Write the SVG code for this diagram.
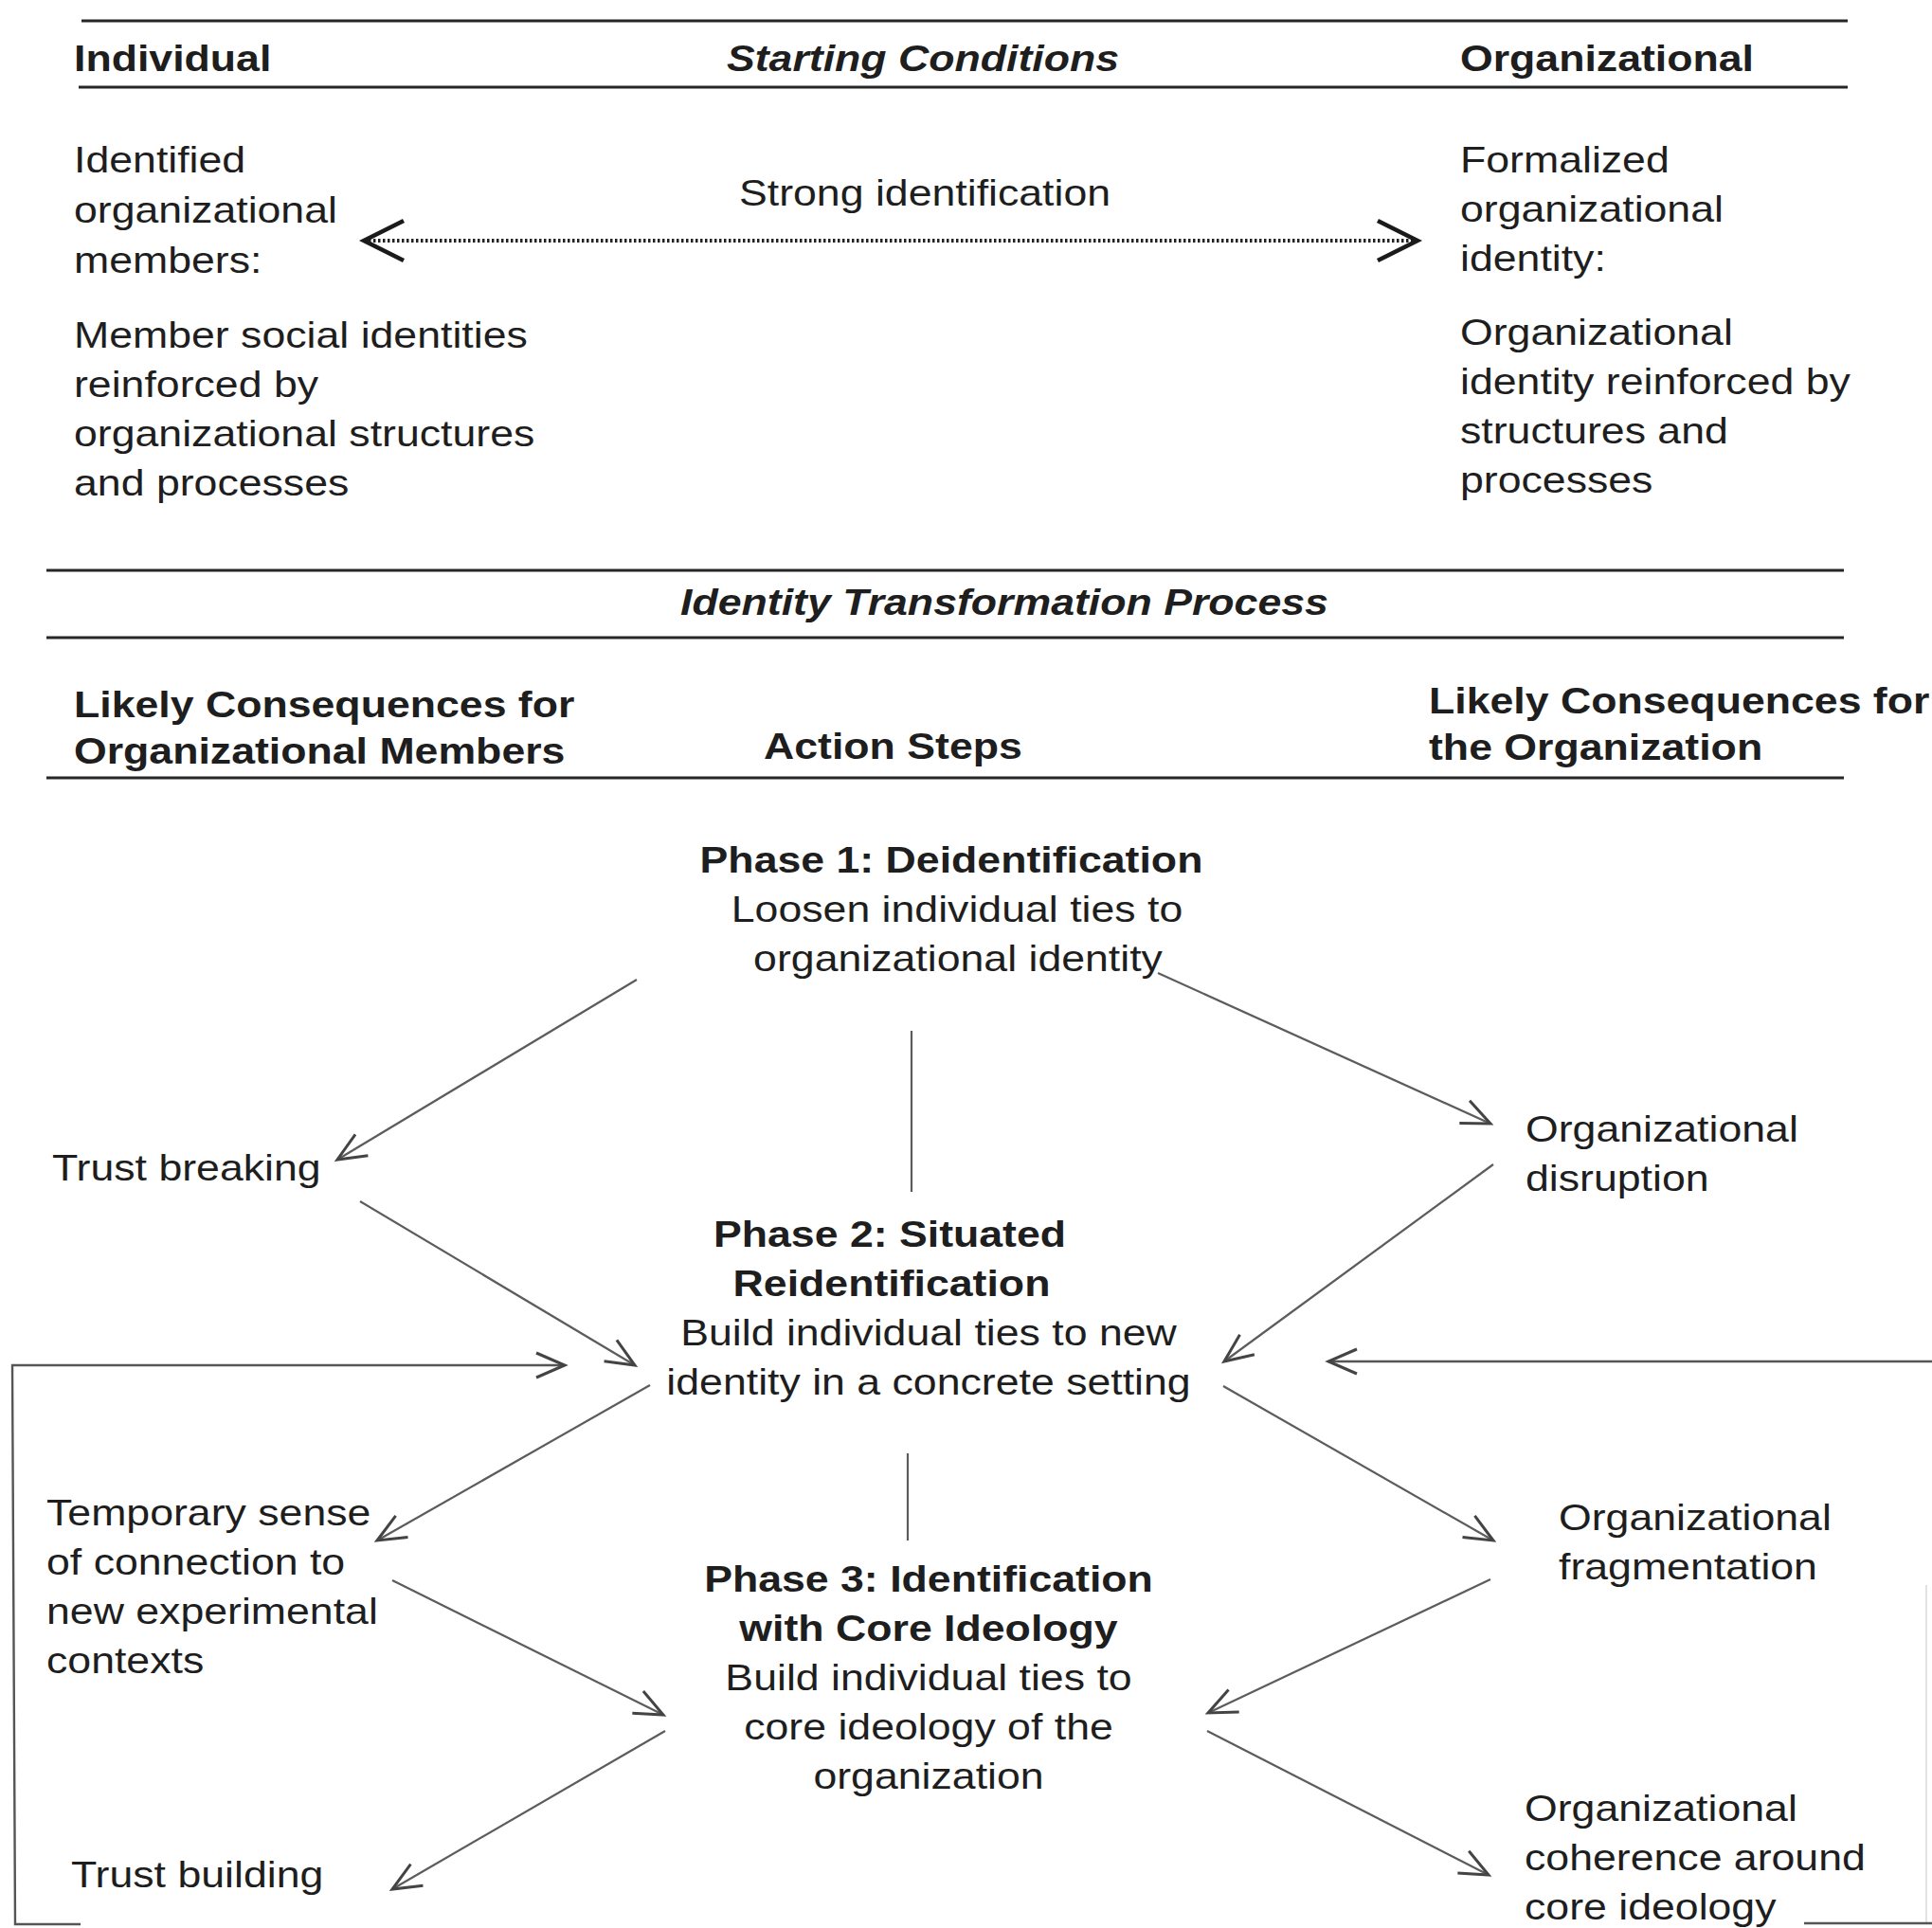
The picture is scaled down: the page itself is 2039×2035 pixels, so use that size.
<svg xmlns="http://www.w3.org/2000/svg" width="2039" height="2035" viewBox="0 0 2039 2035">
<defs>
<style>
.t{font-family:"Liberation Sans",Arial,Helvetica,sans-serif;font-size:39px;fill:#1e1e1e}
.b{font-weight:bold}
.bi{font-weight:bold;font-style:italic}
.m{text-anchor:middle}
.rule{stroke:#262626;stroke-width:3;fill:none}
.conn{stroke:#5c5c5c;stroke-width:2.2;fill:none;marker-end:url(#ah)}
.plain{stroke:#5c5c5c;stroke-width:2.2;fill:none}
.fb{stroke:#555;stroke-width:2.4;fill:none}
</style>
<marker id="ah" markerUnits="userSpaceOnUse" viewBox="-34 -16 38 32" refX="0" refY="0" markerWidth="38" markerHeight="32" orient="auto">
<path d="M-30,-13 L0,0 L-30,13" fill="none" stroke="#444" stroke-width="3" stroke-dasharray="none"/>
</marker>
<marker id="big" markerUnits="userSpaceOnUse" viewBox="-50 -26 56 52" refX="0" refY="0" markerWidth="56" markerHeight="52" orient="auto-start-reverse">
<path d="M-42,-21 L0,0 L-42,21" fill="none" stroke="#1a1a1a" stroke-width="4.5" stroke-dasharray="none"/>
</marker>
</defs>
<rect width="2039" height="2035" fill="#ffffff"/>

<g id="rules">
<line class="rule" x1="86" y1="22" x2="1950" y2="22"/>
<line class="rule" x1="83" y1="92" x2="1950" y2="92"/>
<line class="rule" x1="49" y1="602" x2="1946" y2="602"/>
<line class="rule" x1="49" y1="673" x2="1946" y2="673"/>
<line class="rule" x1="49" y1="821" x2="1946" y2="821"/>
</g>

<g id="hdr-individual" transform="translate(78,75) scale(1.145,1)"><text class="t b" x="0" y="0">Individual</text></g>
<g id="hdr-starting" transform="translate(974,75) scale(1.145,1)"><text class="t bi m" x="0" y="0">Starting Conditions</text></g>
<g id="hdr-organizational" transform="translate(1541,75) scale(1.145,1)"><text class="t b" x="0" y="0">Organizational</text></g>

<g id="lbl-strong" transform="translate(780,217) scale(1.145,1)"><text class="t" x="0" y="0">Strong identification</text></g>

<g id="start-individual" transform="translate(78,182) scale(1.145,1)">
<text class="t" x="0" y="0">Identified</text>
<text class="t" x="0" y="53">organizational</text>
<text class="t" x="0" y="106">members:</text>
<text class="t" x="0" y="185">Member social identities</text>
<text class="t" x="0" y="237">reinforced by</text>
<text class="t" x="0" y="289">organizational structures</text>
<text class="t" x="0" y="341">and processes</text>
</g>

<g id="start-organizational" transform="translate(1541,182) scale(1.145,1)">
<text class="t" x="0" y="0">Formalized</text>
<text class="t" x="0" y="52">organizational</text>
<text class="t" x="0" y="104">identity:</text>
<text class="t" x="0" y="182">Organizational</text>
<text class="t" x="0" y="234">identity reinforced by</text>
<text class="t" x="0" y="286">structures and</text>
<text class="t" x="0" y="338">processes</text>
</g>

<g id="hdr-process" transform="translate(1060,649) scale(1.145,1)"><text class="t bi m" x="0" y="0">Identity Transformation Process</text></g>

<g id="hdr-members" transform="translate(78,757) scale(1.145,1)">
<text class="t b" x="0" y="0">Likely Consequences for</text>
<text class="t b" x="0" y="49">Organizational Members</text>
</g>
<g id="hdr-actions" transform="translate(806,801) scale(1.145,1)"><text class="t b" x="0" y="0">Action Steps</text></g>
<g id="hdr-organization" transform="translate(1508,753) scale(1.145,1)">
<text class="t b" x="0" y="0">Likely Consequences for</text>
<text class="t b" x="0" y="49">the Organization</text>
</g>

<g id="phase1">
<g transform="translate(1004,921) scale(1.145,1)"><text class="t b m" x="0" y="0">Phase 1: Deidentification</text></g>
<g transform="translate(1010,973) scale(1.145,1)"><text class="t m" x="0" y="0">Loosen individual ties to</text></g>
<g transform="translate(1011,1025) scale(1.145,1)"><text class="t m" x="0" y="0">organizational identity</text></g>
</g>

<g id="phase2">
<g transform="translate(939,1316) scale(1.145,1)"><text class="t b m" x="0" y="0">Phase 2: Situated</text></g>
<g transform="translate(941,1368) scale(1.145,1)"><text class="t b m" x="0" y="0">Reidentification</text></g>
<g transform="translate(980,1420) scale(1.145,1)"><text class="t m" x="0" y="0">Build individual ties to new</text></g>
<g transform="translate(980,1472) scale(1.145,1)"><text class="t m" x="0" y="0">identity in a concrete setting</text></g>
</g>

<g id="phase3" transform="translate(980,1680) scale(1.145,1)">
<text class="t b m" x="0" y="0">Phase 3: Identification</text>
<text class="t b m" x="0" y="52">with Core Ideology</text>
<text class="t m" x="0" y="104">Build individual ties to</text>
<text class="t m" x="0" y="156">core ideology of the</text>
<text class="t m" x="0" y="208">organization</text>
</g>

<g id="trust-breaking" transform="translate(55,1246) scale(1.145,1)"><text class="t" x="0" y="0">Trust breaking</text></g>
<g id="temporary-sense" transform="translate(49,1610) scale(1.145,1)">
<text class="t" x="0" y="0">Temporary sense</text>
<text class="t" x="0" y="52">of connection to</text>
<text class="t" x="0" y="104">new experimental</text>
<text class="t" x="0" y="156">contexts</text>
</g>
<g id="trust-building" transform="translate(75,1992) scale(1.145,1)"><text class="t" x="0" y="0">Trust building</text></g>

<g id="org-disruption" transform="translate(1610,1205) scale(1.145,1)">
<text class="t" x="0" y="0">Organizational</text>
<text class="t" x="0" y="52">disruption</text>
</g>
<g id="org-fragmentation" transform="translate(1645,1615) scale(1.145,1)">
<text class="t" x="0" y="0">Organizational</text>
<text class="t" x="0" y="52">fragmentation</text>
</g>
<g id="org-coherence" transform="translate(1609,1922) scale(1.145,1)">
<text class="t" x="0" y="0">Organizational</text>
<text class="t" x="0" y="52">coherence around</text>
<text class="t" x="0" y="104">core ideology</text>
</g>

<g id="connectors">
<line x1="384" y1="254" x2="1496" y2="254" stroke="#222" stroke-width="4" stroke-dasharray="2.5 2.5" marker-start="url(#big)" marker-end="url(#big)"/>
<line class="plain" x1="962" y1="1088" x2="962" y2="1258"/>
<line class="plain" x1="958" y1="1534" x2="958" y2="1626"/>
<line class="conn" x1="672" y1="1034" x2="356" y2="1224"/>
<line class="conn" x1="1222" y1="1027" x2="1573" y2="1186"/>
<line class="conn" x1="380" y1="1268" x2="670" y2="1441"/>
<line class="conn" x1="1576" y1="1229" x2="1292" y2="1437"/>
<line class="conn" x1="686" y1="1462" x2="398" y2="1626"/>
<line class="conn" x1="1291" y1="1463" x2="1576" y2="1626"/>
<line class="conn" x1="414" y1="1668" x2="700" y2="1810"/>
<line class="conn" x1="1573" y1="1667" x2="1275" y2="1808"/>
<line class="conn" x1="702" y1="1827" x2="414" y2="1994"/>
<line class="conn" x1="1274" y1="1827" x2="1571" y2="1979"/>
<polyline class="fb" points="85,2031 16,2031 13,1441 596,1441" marker-end="url(#ah)"/>
<line class="fb" x1="2039" y1="1437" x2="1402" y2="1437" marker-end="url(#ah)"/>
<line x1="2033" y1="1673" x2="2033" y2="2030" stroke="#e2e2e2" stroke-width="2"/>
<line class="fb" x1="1904" y1="2030" x2="2039" y2="2030"/>
</g>
</svg>
